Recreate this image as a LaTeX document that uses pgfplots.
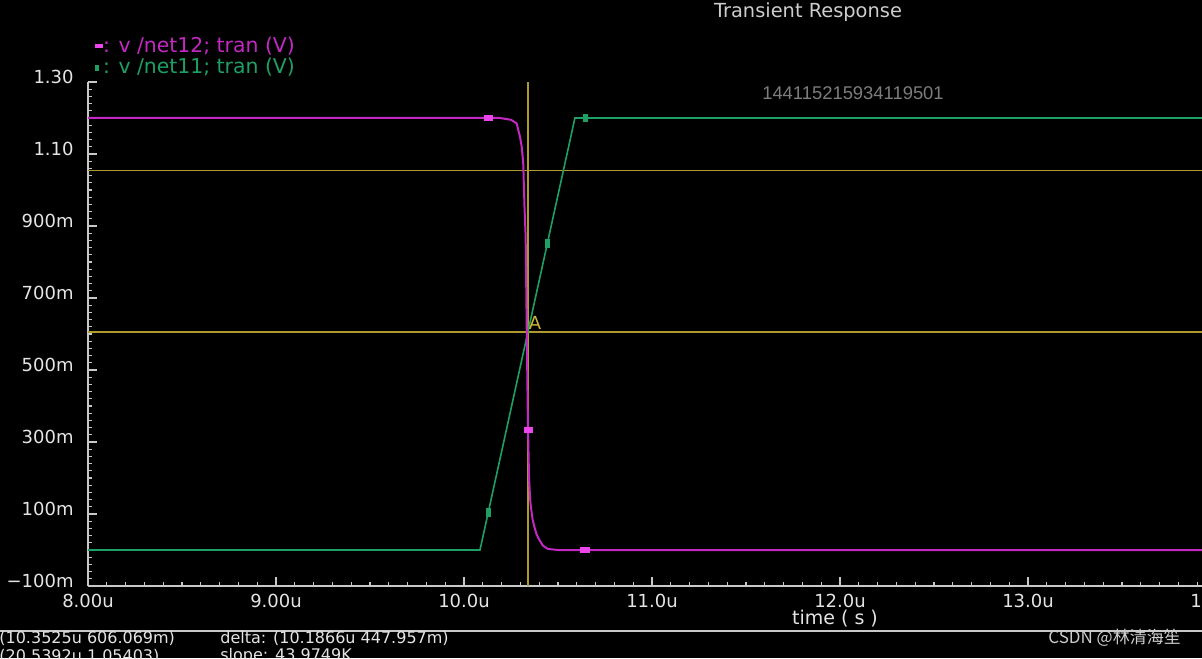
\documentclass[border=0pt]{standalone}
\usepackage{fontspec}
\setmainfont{DejaVu Sans}
\newfontfamily\cjk{Noto Sans CJK SC}
\newfontfamily\arial{Liberation Sans}
\usepackage{pgfplots}
\pgfplotsset{compat=1.18}
\definecolor{mag}{RGB}{195,40,195}
\definecolor{magm}{RGB}{235,70,235}
\definecolor{grn}{RGB}{30,160,100}
\definecolor{cur}{RGB}{175,155,45}
\definecolor{curA}{RGB}{205,185,50}
\definecolor{axg}{RGB}{200,200,200}
\definecolor{txt}{RGB}{228,228,228}
\definecolor{ttl}{RGB}{205,205,205}
\definecolor{wm}{RGB}{125,125,125}
\begin{document}
\begin{tikzpicture}
\useasboundingbox (0,0) rectangle (601pt,329pt);
\fill[black] (0,0) rectangle (601pt,329pt);
\clip (0,0) rectangle (601pt,329pt);
\begin{axis}[
  at={(44pt,36pt)}, anchor=south west,
  scale only axis, width=564pt, height=252pt,
  xmin=8, xmax=14, ymin=-0.1, ymax=1.3,
  axis x line=bottom, axis y line=left,
  axis line style={axg, line width=0.8pt, -},
  xtick={8,9,10,11,12,13,14},
  xticklabels={8.00u,9.00u,10.0u,11.0u,12.0u,13.0u,14.0u},
  ytick={-0.1,0.1,0.3,0.5,0.7,0.9,1.1,1.3},
  yticklabels={−100m,100m,300m,500m,700m,900m,1.10,1.30},
  minor x tick num=9, minor y tick num=9,
  tick align=inside, major tick length=4.5pt, minor tick length=2pt,
  tick style={axg, line width=0.6pt},
  every tick label/.append style={font=\fontsize{9}{10}\selectfont, text=txt},
  xticklabel style={anchor=center, yshift=-7.5pt},
  yticklabel style={anchor=east, inner sep=0pt, xshift=-7pt, yshift=2.5pt},
]
% cursor lines
\addplot[cur, line width=0.9pt] coordinates {(10.34,-0.1) (10.34,1.3)};
\addplot[cur, line width=0.9pt] coordinates {(8,0.606) (14,0.606)};
\addplot[cur, line width=0.9pt] coordinates {(8,1.054) (14,1.054)};
% v /net11 (green)
\addplot[grn, line width=0.8pt] coordinates {
(8,0) (10.085,0) (10.59,1.2) (14,1.2)};
% v /net12 (magenta)
\addplot[mag, line width=1pt] coordinates {
(8,1.2) (10.19,1.2) (10.25,1.195) (10.28,1.185) (10.298,1.148) (10.307,1.12)
(10.315,1.075) (10.322,0.95) (10.328,0.87) (10.334,0.6) (10.34,0.35)
(10.346,0.2) (10.352,0.14) (10.356,0.119) (10.365,0.085) (10.374,0.065)
(10.385,0.045) (10.401,0.028) (10.42,0.012) (10.446,0.003) (10.5,0) (14,0)};
% markers
\addplot[only marks, mark=square*, mark size=1.2pt, mark options={xscale=1.8, magm, draw=magm}]
 coordinates {(10.129,1.2) (10.342,0.333) (10.644,0)};
\addplot[only marks, mark=square*, mark size=1.1pt, mark options={yscale=1.7, grn, draw=grn}]
 coordinates {(10.129,0.105) (10.443,0.851) (10.647,1.2)};
\node[text=curA, font=\fontsize{9}{10}\selectfont] at (axis cs:10.378,0.63) {A};
\end{axis}
% title and texts
\node[text=ttl, font=\fontsize{9.7}{11}\selectfont] at (404pt,323pt) {Transient Response};
\node[anchor=west, inner sep=0pt, text=mag, font=\fontsize{10.2}{12}\selectfont] at (47.5pt,306pt)
 {\textcolor{magm}{\rule[0.22em]{3.8pt}{2pt}}: v /net12; tran (V)};
\node[anchor=west, inner sep=0pt, text=grn, font=\fontsize{10.2}{12}\selectfont] at (47.5pt,295.5pt)
 {\rule[0.1em]{2pt}{3.4pt}\hspace{1.8pt}: v /net11; tran (V)};
\node[text=wm, font=\arial\fontsize{9.2}{11}\selectfont] at (426.5pt,282.5pt) {144115215934119501};
\node[text=txt, font=\fontsize{9.5}{11}\selectfont] at (417.5pt,19.5pt) {time ( s )};
\draw[axg, line width=0.8pt] (0,13.5pt) -- (601pt,13.5pt);
\node[anchor=west, inner sep=0pt, text=txt, font=\fontsize{8}{9}\selectfont] at (-0.5pt,10pt) {(10.3525u 606.069m)};
\node[anchor=west, inner sep=0pt, text=txt, font=\fontsize{8}{9}\selectfont] at (110pt,10pt) {delta: (10.1866u 447.957m)};
\node[anchor=west, inner sep=0pt, text=txt, font=\fontsize{8}{9}\selectfont] at (-0.5pt,1pt) {(20.5392u 1.05403)};
\node[anchor=west, inner sep=0pt, text=txt, font=\fontsize{8}{9}\selectfont] at (110pt,1pt) {slope: 43.9749K};
\node[anchor=west, inner sep=0pt, text=ttl, font=\cjk\fontsize{8.5}{10}\selectfont] at (524pt,10pt) {CSDN @林清海笙};
\end{tikzpicture}
\end{document}
